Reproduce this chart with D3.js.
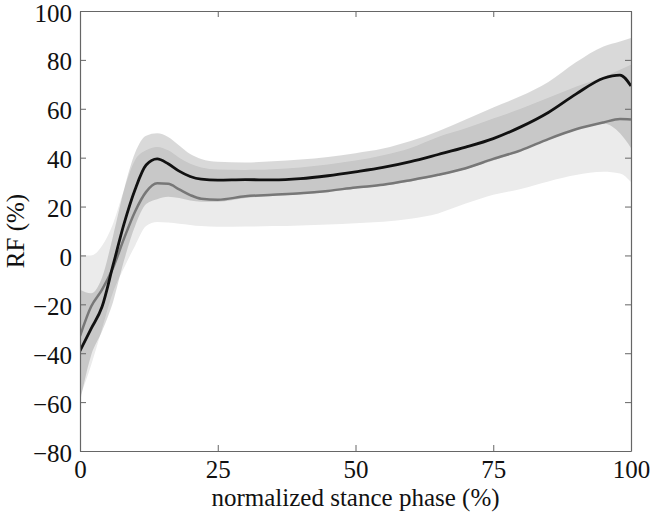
<!DOCTYPE html>
<html>
<head>
<meta charset="utf-8">
<script src="https://cdn.jsdelivr.net/npm/d3@7"></script>
<style>
  body { margin: 0; background: #fff; }
  svg text { font-family: "Liberation Serif", "Times New Roman", Times, "DejaVu Serif", serif !important; fill: #111; }
</style>
</head>
<body>
<svg id="chart" width="650" height="512"></svg>
<script>
// stance phase samples (%)
var phase = [0, 2, 4, 6, 8, 10, 12, 14, 16, 18, 20, 22, 25, 30, 35, 40, 45, 50, 55, 60, 65, 70, 75, 80, 85, 90, 95, 98, 100];

// black curve (mean) and its band
var meanA  = [-39, -30, -21, -4, 13, 27, 37, 39.5, 37.5, 34.5, 32.3, 31.2, 30.8, 31, 30.9, 31.4, 32.6, 34.2, 36, 38.4, 41.3, 44.3, 47.8, 52.6, 58.5, 66, 72.5, 73.8, 69.3];
var upperA = [-14, -15.5, -9, 8, 27, 42, 49, 50, 48.5, 45, 41.5, 39.5, 38.3, 38, 38.5, 39.2, 40.3, 41.8, 43.7, 46.8, 50.8, 55.6, 60.5, 65.2, 71, 79, 85.5, 87.5, 89];
var lowerA = [-60, -41, -31, -19, -2, 12, 21, 23, 24, 23.5, 22.5, 22, 22, 23.5, 24.3, 25, 26, 27.3, 28.5, 30.3, 32.5, 35.3, 38.8, 42.8, 47.3, 51.3, 54, 50, 44];

// grey curve (mean) and its band
var meanB  = [-33, -21, -14, -5, 7, 18, 26, 29.5, 29.3, 27, 24.7, 23.2, 22.8, 24.2, 24.8, 25.4, 26.4, 27.8, 28.9, 30.8, 33, 35.7, 39.5, 43, 47.6, 51.6, 54.4, 55.8, 55.6];
var upperB = [0, 0, 4, 13, 27, 39, 43, 44.4, 43, 40, 37.5, 36, 35.2, 35, 35.3, 36, 37.2, 38.8, 41, 44, 48.5, 52, 56, 60, 64.5, 69, 73, 76, 78];
var lowerB = [-58, -45, -30, -15, -5, 4, 12, 13.7, 13.5, 13, 12.5, 12, 11.7, 11.8, 12, 12.3, 12.7, 13.2, 13.8, 15, 17.2, 21.2, 24.8, 27.2, 30.3, 32.9, 34.2, 33.5, 30];

var xTicks = [0, 25, 50, 75, 100];
var yTicks = [-80, -60, -40, -20, 0, 20, 40, 60, 80, 100];

var svg = d3.select("#chart"),
    margin = {top: 11, right: 19, bottom: 61, left: 80},
    width = +svg.attr("width") - margin.left - margin.right,
    height = +svg.attr("height") - margin.top - margin.bottom;

var x = d3.scaleLinear().domain([0, 100]).range([0, width]),
    y = d3.scaleLinear().domain([-80, 100]).range([height, 0]);

var g = svg.append("g")
    .attr("transform", "translate(" + margin.left + "," + margin.top + ")");

svg.append("clipPath").attr("id", "plotclip")
  .append("rect").attr("width", width).attr("height", height);

var rows = phase.map(function (p, i) {
  return {p: p, mA: meanA[i], uA: upperA[i], lA: lowerA[i], mB: meanB[i], uB: upperB[i], lB: lowerB[i]};
});

var curve = d3.curveMonotoneX;
var plot = g.append("g").attr("clip-path", "url(#plotclip)");

plot.append("path")
  .datum(rows)
  .attr("fill", "#ebebeb")
  .attr("d", d3.area().curve(curve)
    .x(function (d) { return x(d.p); })
    .y0(function (d) { return y(d.lB); })
    .y1(function (d) { return y(d.uB); }));

plot.append("path")
  .datum(rows)
  .attr("fill", "#000")
  .attr("fill-opacity", 0.15)
  .attr("d", d3.area().curve(curve)
    .x(function (d) { return x(d.p); })
    .y0(function (d) { return y(d.lA); })
    .y1(function (d) { return y(d.uA); }));

plot.append("path")
  .datum(rows)
  .attr("fill", "none")
  .attr("stroke", "#777")
  .attr("stroke-width", 2.5)
  .attr("d", d3.line().curve(curve)
    .x(function (d) { return x(d.p); })
    .y(function (d) { return y(d.mB); }));

plot.append("path")
  .datum(rows)
  .attr("fill", "none")
  .attr("stroke", "#111")
  .attr("stroke-width", 2.8)
  .attr("d", d3.line().curve(curve)
    .x(function (d) { return x(d.p); })
    .y(function (d) { return y(d.mA); }));

// axes (ticks pointing inward, box all round)
function styleAxis(sel) {
  sel.attr("font-family", null).attr("font-size", null);
  sel.select(".domain").attr("stroke", "#666").attr("stroke-width", 1.2);
  sel.selectAll(".tick line").attr("stroke", "#666");
  sel.selectAll(".tick text").style("font-size", "25px").attr("fill", "#111");
}

g.append("g")
  .attr("transform", "translate(0," + height + ")")
  .call(d3.axisBottom(x).tickValues(xTicks).tickSizeInner(-6).tickSizeOuter(0).tickPadding(9))
  .call(styleAxis);

g.append("g")
  .call(d3.axisTop(x).tickValues(xTicks).tickSizeInner(-6).tickSizeOuter(0).tickFormat(""))
  .call(styleAxis);

g.append("g")
  .call(d3.axisLeft(y).tickValues(yTicks).tickSizeInner(-6).tickSizeOuter(0).tickPadding(8))
  .call(styleAxis)
  .selectAll(".tick text").attr("dy", "0.4em");

g.append("g")
  .attr("transform", "translate(" + width + ",0)")
  .call(d3.axisRight(y).tickValues(yTicks).tickSizeInner(-6).tickSizeOuter(0).tickFormat(""))
  .call(styleAxis);

svg.append("text")
  .attr("x", margin.left + width / 2)
  .attr("y", 506)
  .attr("text-anchor", "middle")
  .style("font-size", "25px")
  .text("normalized stance phase (%)");

svg.append("text")
  .attr("transform", "translate(24," + (margin.top + height / 2) + ") rotate(-90)")
  .attr("text-anchor", "middle")
  .style("font-size", "25px")
  .text("RF (%)");
</script>
</body>
</html>
